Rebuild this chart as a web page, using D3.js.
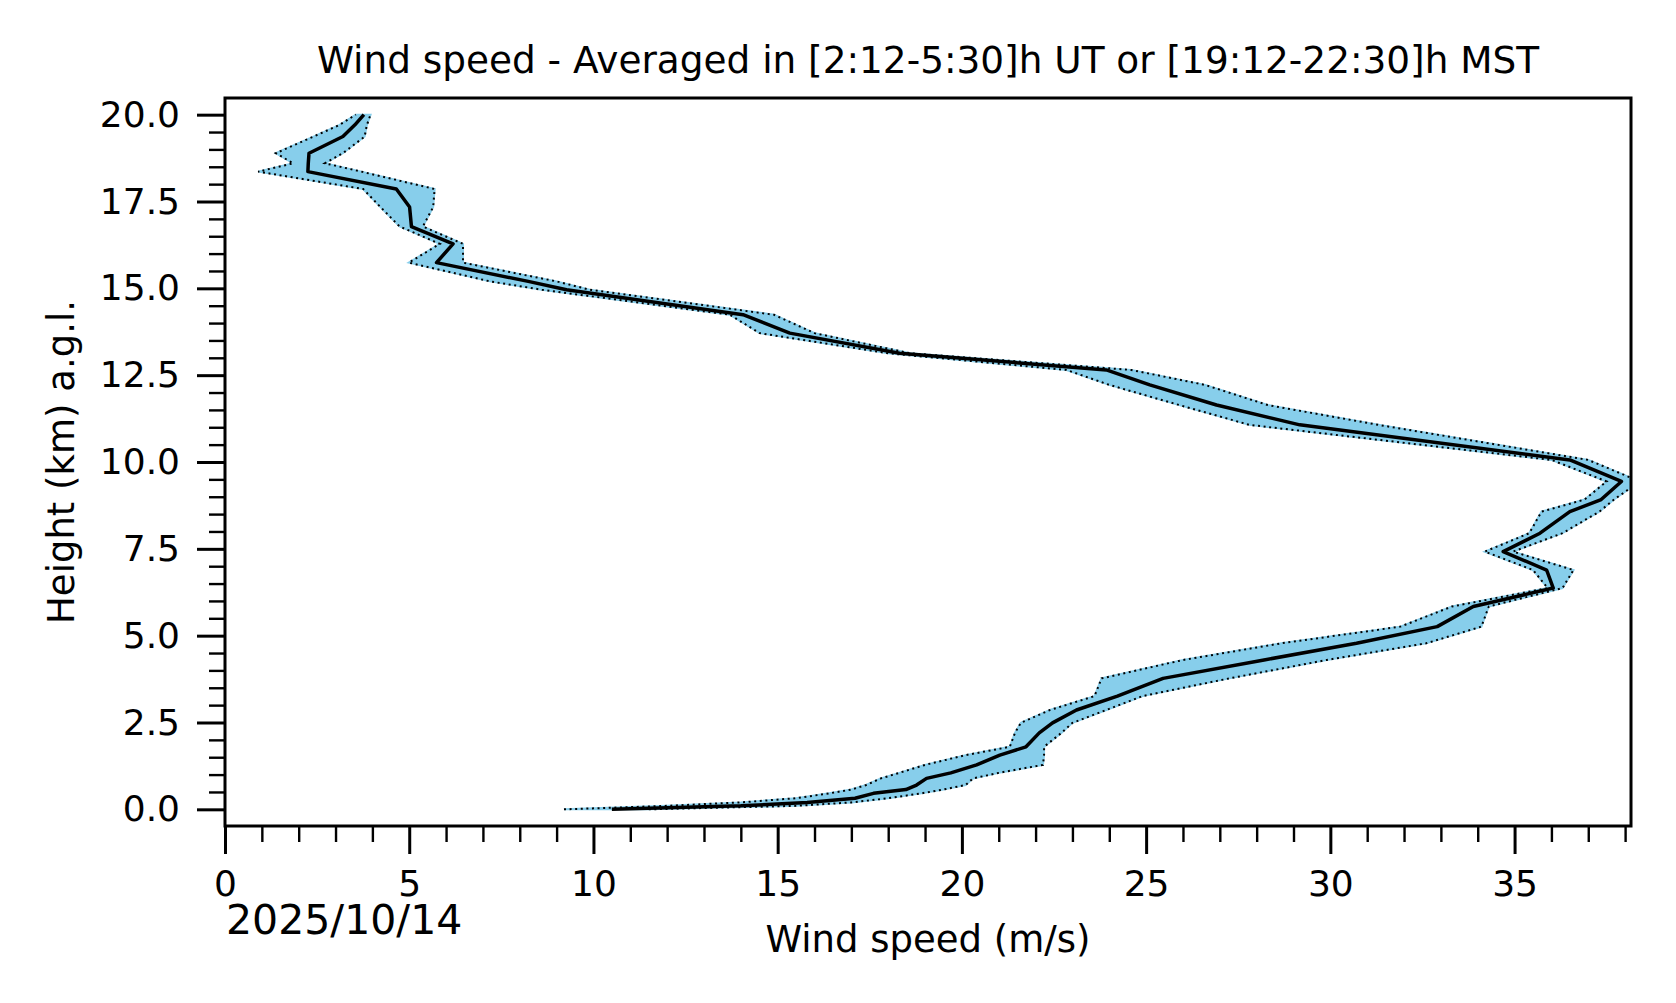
<!DOCTYPE html>
<html>
<head>
<meta charset="utf-8">
<script src="https://cdn.jsdelivr.net/npm/d3@7"></script>
<style>
  body { margin: 0; background: #fff; }
  text { font-family: "DejaVu Sans", sans-serif; fill: #000; }
</style>
</head>
<body>
<div id="chart"></div>
<script>
// heights (km a.g.l.) and wind speed (m/s): mean, lower and upper bound
const heights = [0.00, 0.10, 0.20, 0.32, 0.46, 0.57, 0.70, 0.89, 1.05, 1.28, 1.56, 1.80, 2.20, 2.49, 2.86, 3.26, 3.77, 4.30, 4.78, 5.26, 5.84, 6.37, 6.89, 7.42, 7.95, 8.57, 8.92, 9.44, 10.06, 11.07, 11.64, 12.22, 12.65, 13.13, 13.71, 14.24, 14.96, 15.20, 15.74, 16.28, 16.78, 17.34, 17.86, 18.36, 18.60, 18.89, 19.37, 19.70, 20.00];
const meanSpeed = [10.5, 14.0, 15.8, 17.1, 17.6, 18.48, 18.77, 19.04, 19.7, 20.4, 21.03, 21.74, 22.1, 22.46, 23.11, 24.22, 25.46, 28.2, 30.71, 32.9, 33.88, 36.05, 35.87, 34.69, 35.69, 36.5, 37.35, 37.9, 36.5, 29.17, 26.91, 25.1, 23.92, 18.31, 15.33, 14.06, 9.27, 8.23, 5.74, 6.19, 5.06, 5.01, 4.65, 2.25, 2.26, 2.28, 3.2, 3.52, 3.77];
const lowSpeed = [9.2, 12.0, 14.0, 15.5, 16.4, 17.0, 17.4, 17.8, 18.3, 19.0, 20.1, 21.3, 21.44, 21.6, 22.39, 23.6, 23.79, 26.0, 28.67, 31.9, 33.3, 35.9, 35.5, 34.19, 35.4, 35.73, 36.9, 37.5, 36.0, 27.8, 25.9, 24.0, 22.84, 18.0, 14.51, 13.7, 8.6, 7.19, 4.99, 5.83, 4.74, 4.22, 3.75, 0.9, 1.85, 1.38, 2.4, 3.1, 3.55];
const highSpeed = [11.5, 15.5, 17.0, 18.0, 18.9, 19.5, 20.1, 20.3, 21.0, 22.2, 22.23, 22.23, 22.7, 23.0, 23.92, 24.9, 27.26, 29.9, 32.6, 34.1, 34.3, 36.3, 36.6, 34.96, 36.3, 37.3, 37.7, 38.4, 37.0, 31.3, 28.3, 26.6, 24.6, 18.6, 16.0, 14.9, 9.9, 9.0, 6.46, 6.46, 5.37, 5.65, 5.69, 3.7, 2.71, 3.2, 3.79, 3.85, 3.95];

const xTicks = [0, 5, 10, 15, 20, 25, 30, 35];
const yTicks = [0, 2.5, 5, 7.5, 10, 12.5, 15, 17.5, 20];
const titleText = "Wind speed - Averaged in [2:12-5:30]h UT or [19:12-22:30]h MST";
const dateText = "2025/10/14";

const W = 1676, H = 1003;
const padL = 225, padR = 1631, padT = 98, padB = 826;

const data = heights.map((h, i) => ({h: h, m: meanSpeed[i], lo: lowSpeed[i], hi: highSpeed[i]}));

const x = d3.scaleLinear().domain([0, 38.16]).range([padL, padR]);
const y = d3.scaleLinear().domain([-0.48, 20.48]).range([padB, padT]);

const svg = d3.select('#chart').append('svg')
  .attr('width', W).attr('height', H);

svg.append('rect').attr('width', W).attr('height', H).attr('fill', '#fff');

svg.append('clipPath').attr('id', 'plot')
  .append('rect')
  .attr('x', padL).attr('y', padT)
  .attr('width', padR - padL).attr('height', padB - padT);

const g = svg.append('g').attr('clip-path', 'url(#plot)');

const band = d3.area()
  .y(d => y(d.h))
  .x0(d => x(d.lo))
  .x1(d => x(d.hi));

g.append('path')
  .datum(data)
  .attr('d', band)
  .attr('fill', 'skyblue')
  .attr('stroke', 'skyblue')
  .attr('stroke-width', 2);

const lineOf = key => d3.line().x(d => x(d[key])).y(d => y(d.h));

['lo', 'hi'].forEach(k => {
  g.append('path')
    .datum(data)
    .attr('d', lineOf(k))
    .attr('fill', 'none')
    .attr('stroke', '#000')
    .attr('stroke-width', 2)
    .attr('stroke-dasharray', '2,3.6');
});

g.append('path')
  .datum(data)
  .attr('d', lineOf('m'))
  .attr('fill', 'none')
  .attr('stroke', '#000')
  .attr('stroke-width', 3.5)
  .attr('stroke-linejoin', 'round');

// axes
const xMinor = d3.range(0, 39).filter(v => v % 5 !== 0);
const yMinor = d3.range(0, 20.01, 0.5).filter(v => Math.abs(v / 2.5 - Math.round(v / 2.5)) > 1e-6);

const xAxis = d3.axisBottom(x).tickValues(xTicks).tickSize(28).tickPadding(16).tickFormat(d3.format('d'));
const xAxisMinor = d3.axisBottom(x).tickValues(xMinor).tickSize(16).tickFormat('');
const yAxis = d3.axisLeft(y).tickValues(yTicks).tickSize(28).tickPadding(17).tickFormat(d3.format('.1f'));
const yAxisMinor = d3.axisLeft(y).tickValues(yMinor).tickSize(16).tickFormat('');

function styleAxis(sel, w) {
  sel.select('.domain').remove();
  sel.selectAll('line').attr('stroke', '#000').attr('stroke-width', w);
  sel.selectAll('text').attr('font-size', 36).attr('font-family', '"DejaVu Sans", sans-serif').attr('fill', '#000');
}

svg.append('g').attr('transform', 'translate(0,' + padB + ')').call(xAxisMinor).call(s => styleAxis(s, 2.4));
svg.append('g').attr('transform', 'translate(0,' + padB + ')').call(xAxis).call(s => styleAxis(s, 3));
svg.append('g').attr('transform', 'translate(' + padL + ',0)').call(yAxisMinor).call(s => styleAxis(s, 2.4));
svg.append('g').attr('transform', 'translate(' + padL + ',0)').call(yAxis).call(s => styleAxis(s, 3));

// frame
svg.append('rect')
  .attr('x', padL).attr('y', padT)
  .attr('width', padR - padL).attr('height', padB - padT)
  .attr('fill', 'none').attr('stroke', '#000').attr('stroke-width', 3);

// texts
svg.append('text')
  .attr('x', (padL + padR) / 2).attr('y', 73)
  .attr('text-anchor', 'middle').attr('font-size', 37.4)
  .text(titleText);

svg.append('text')
  .attr('x', (padL + padR) / 2).attr('y', 952)
  .attr('text-anchor', 'middle').attr('font-size', 37)
  .text('Wind speed (m/s)');

svg.append('text')
  .attr('transform', 'translate(74,' + ((padT + padB) / 2) + ') rotate(-90)')
  .attr('text-anchor', 'middle').attr('font-size', 37)
  .text('Height (km) a.g.l.');

svg.append('text')
  .attr('x', 226).attr('y', 934)
  .attr('font-size', 41)
  .text(dateText);
</script>
</body>
</html>
